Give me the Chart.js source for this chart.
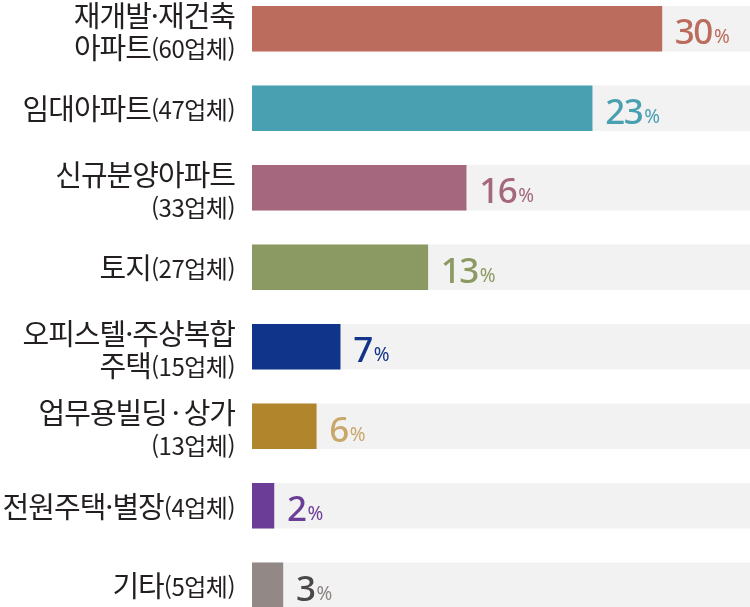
<!DOCTYPE html>
<html lang="ko">
<head>
<meta charset="utf-8">
<title>업체 유형별 비중</title>
<script src="https://cdn.jsdelivr.net/npm/chart.js@4.4.1/dist/chart.umd.min.js"></script>
<style>
  html, body { margin: 0; padding: 0; background: #fff; overflow: hidden; }
  #wrap { position: absolute; left: 0; top: -11px; width: 750px; height: 636px; }
</style>
</head>
<body>
<div id="wrap"><canvas id="tipoChart"></canvas></div>
<script>
// '#' marca donde va el texto "(N업체)" en letra más pequeña
var categoryLines = [
    ['재개발·재건축', '아파트#'],
    ['임대아파트#'],
    ['신규분양아파트', '#'],
    ['토지#'],
    ['오피스텔·주상복합', '주택#'],
    ['업무용빌딩\u2009·\u2009상가', '#'],
    ['전원주택·별장#'],
    ['기타#']
];
var firmCounts = [60, 47, 33, 27, 15, 13, 4, 5];
var shareLabels = [30, 23, 16, 13, 7, 6, 2, 3];
// longitud de barra (pista gris = 100)
var barValues = [82.3, 68.3, 43.0, 35.3, 17.7, 12.9, 4.4, 6.2];
var trackValues = [100, 100, 100, 100, 100, 100, 100, 100];

var barColors = ['#bb6c5c', '#48a0b0', '#a4677d', '#8b9962', '#0f348a', '#b0852b', '#6b3d97', '#928886'];
var numberColors = ['#bb6c5c', '#48a0b0', '#a4677d', '#8b9962', '#14338a', '#c9a66b', '#6b3d97', '#4a4747'];
var percentColors = ['#bb6c5c', '#48a0b0', '#a4677d', '#8b9962', '#14338a', '#c9a66b', '#6b3d97', '#8d8483'];

var FUENTE_GRANDE = '400 29px "Noto Sans CJK KR"';
var FUENTE_CHICA = '400 24px "Noto Sans CJK KR"';

var labelPlugin = {
    id: 'etiquetas',
    afterDatasetsDraw: function (chart) {
        var ctx = chart.ctx;
        var yScale = chart.scales.y;
        var meta = chart.getDatasetMeta(1);
        ctx.save();

        categoryLines.forEach(function (lines, i) {
            var yc = yScale.getPixelForValue(i);
            var ys = lines.length === 1 ? [yc + 1] : [yc - 13, yc + 19];
            lines.forEach(function (line, k) {
                var parts = line.split('#');
                var main = parts[0];
                var count = parts.length > 1 ? '(' + firmCounts[i] + '업체)' : '';
                ctx.textBaseline = 'middle';
                ctx.textAlign = 'left';
                ctx.fillStyle = '#231f20';
                ctx.font = FUENTE_GRANDE;
                ctx.letterSpacing = '-1px';
                var wMain = ctx.measureText(main).width;
                ctx.font = FUENTE_CHICA;
                ctx.letterSpacing = '-0.5px';
                var wCount = ctx.measureText(count).width;
                var x0 = 235 - wMain - wCount;
                ctx.font = FUENTE_GRANDE;
                ctx.letterSpacing = '-1px';
                ctx.fillText(main, x0, ys[k]);
                ctx.font = FUENTE_CHICA;
                ctx.letterSpacing = '-0.5px';
                ctx.fillText(count, x0 + wMain, ys[k] + 1);
            });
        });

        meta.data.forEach(function (bar, i) {
            var x = bar.x + 13;
            var y = bar.y + 15.5;
            ctx.textAlign = 'left';
            ctx.textBaseline = 'alphabetic';
            ctx.font = '500 35px "Noto Sans"';
            ctx.letterSpacing = '-1.5px';
            ctx.fillStyle = numberColors[i];
            var num = String(shareLabels[i]);
            ctx.fillText(num, x, y);
            var w = ctx.measureText(num).width;
            ctx.font = '400 19px "Noto Sans"';
            ctx.letterSpacing = '0px';
            ctx.fillStyle = percentColors[i];
            ctx.fillText('%', x + w + 2, y - 1);
        });
        ctx.restore();
    }
};

var chartTipo = new Chart(document.getElementById('tipoChart'), {
    type: 'bar',
    data: {
        labels: categoryLines.map(function (l) { return l.join(' ').replace('#', ''); }),
        datasets: [{
            data: trackValues,
            backgroundColor: '#f2f2f2',
            grouped: false,
            order: 2,
            barThickness: 45,
            borderWidth: 0
        }, {
            data: barValues,
            backgroundColor: barColors,
            grouped: false,
            order: 1,
            barThickness: 45,
            borderWidth: 0
        }]
    },
    options: {
        indexAxis: 'y',
        responsive: true,
        maintainAspectRatio: false,
        animation: false,
        layout: { padding: { left: 252, right: 0, top: 0, bottom: 0 } },
        scales: {
            x: { display: false, min: 0, max: 100 },
            y: { display: false }
        },
        plugins: { legend: { display: false }, tooltip: { enabled: false } }
    },
    plugins: [labelPlugin]
});
</script>
</body>
</html>
